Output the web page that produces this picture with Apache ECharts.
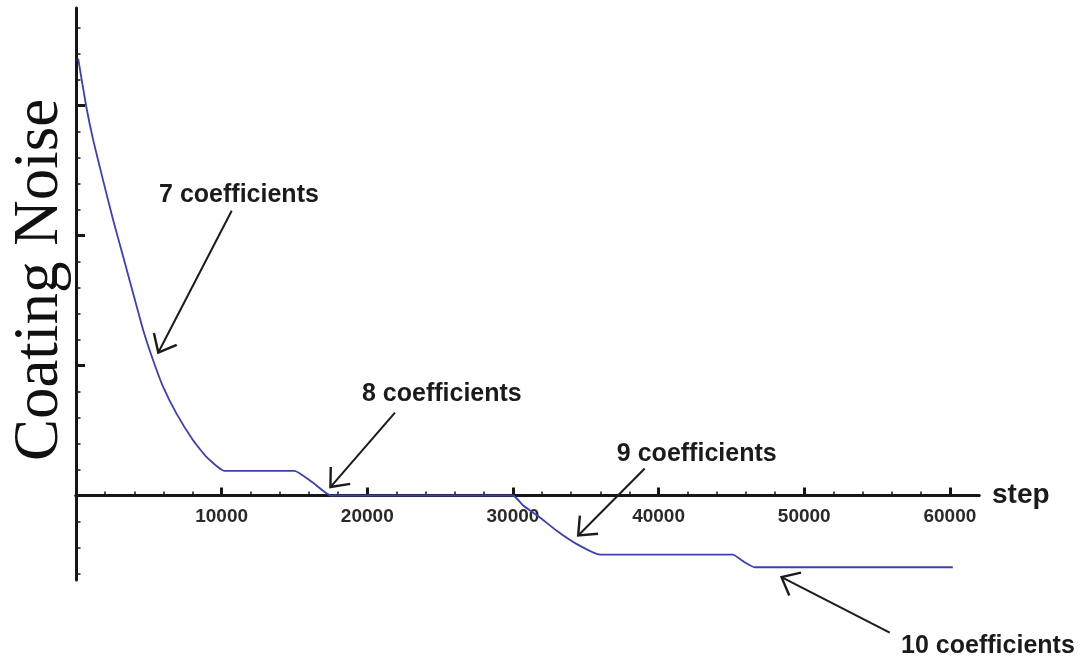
<!DOCTYPE html>
<html>
<head>
<meta charset="utf-8">
<title>Coating Noise vs step</title>
<script src="https://cdn.jsdelivr.net/npm/echarts@6/dist/echarts.min.js"></script>
<style>
  html, body { margin: 0; padding: 0; background: #ffffff; }
  #chart { width: 1082px; height: 661px; }
</style>
</head>
<body>
<div id="chart"></div>
<script>
// Coating noise during the optimisation run, by step
const steps = [150, 690, 1190, 1870, 2560, 3250, 3930, 4620, 5300, 5990, 6910, 8050, 8970, 10200,
               15000, 16300, 17500, 30000, 30700, 31830, 32980, 34360, 35960, 45100, 45790, 46600, 60200];
const noise = [3.36, 3.00, 2.73, 2.42, 2.115, 1.833, 1.552, 1.269, 1.038, 0.833, 0.628, 0.423, 0.295, 0.19,
               0.19, 0.096, 0, 0, -0.077, -0.167, -0.269, -0.372, -0.454, -0.455, -0.505, -0.552, -0.552];

// Axis ticks (the vertical axis carries no numbers)
const xMajorTicks = [10000, 20000, 30000, 40000, 50000, 60000];
const xMinorTicks = [2000, 4000, 6000, 8000, 12000, 14000, 16000, 18000, 22000, 24000, 26000, 28000,
                     32000, 34000, 36000, 38000, 42000, 44000, 46000, 48000, 52000, 54000, 56000, 58000];
const yMajorTicks = [1, 2, 3];
const yMinorTicks = [-0.6, -0.4, -0.2, 0.2, 0.4, 0.6, 0.8, 1.2, 1.4, 1.6, 1.8, 2.2, 2.4, 2.6, 2.8, 3.2, 3.4, 3.6];

// Annotations: label centres and arrows (tail -> head), in step / noise units
const noteText  = ['7 coefficients', '8 coefficients', '9 coefficients', '10 coefficients'];
const noteStep  = [11190, 25120, 42620, 62615];
const noteValue = [2.31, 0.777, 0.322, -1.16];
const arrowFromStep  = [10690, 21900, 39050, 55870];
const arrowFromValue = [2.19, 0.638, 0.208, -1.054];
const arrowToStep    = [5650, 17470, 34480, 48440];
const arrowToValue   = [1.10, 0.065, -0.308, -0.628];

const Y_MIN = -0.65, Y_MAX = 3.75;
const GRID = { left: 76, right: 103, top: 8, bottom: 81 };
// the step axis sits on noise = 0, raised from the grid's bottom edge
const plotHeight = 661 - GRID.top - GRID.bottom;
const zeroLift = plotHeight * (0 - Y_MIN) / (Y_MAX - Y_MIN);

const AXIS = '#161616';
const INK = '#1b1b1b';
const SANS = '"Liberation Sans", Arial, Helvetica, sans-serif';

const chart = echarts.init(document.getElementById('chart'), null, { renderer: 'canvas' });

function xAxisBase() {
  return {
    type: 'value', position: 'bottom', min: 0, max: 62000,
    offset: -zeroLift,
    splitLine: { show: false },
    axisLine: { show: true, onZero: false, lineStyle: { color: AXIS, width: 3 } }
  };
}
function yAxisBase() {
  return {
    type: 'value', position: 'left', min: Y_MIN, max: Y_MAX,
    splitLine: { show: false },
    axisLabel: { show: false }
  };
}

const option = {
  animation: false,
  backgroundColor: '#ffffff',
  grid: Object.assign({ outerBoundsMode: 'none' }, GRID),
  xAxis: [
    Object.assign(xAxisBase(), {
      name: 'step', nameLocation: 'end', nameGap: 13,
      nameTextStyle: { fontFamily: SANS, fontSize: 28, fontWeight: 'bold', color: INK, padding: [0, 0, 5, 0] },
      axisTick: { show: true, inside: true, length: 8, customValues: xMajorTicks, lineStyle: { color: AXIS, width: 3 } },
      axisLabel: { show: true, customValues: xMajorTicks, margin: 12, fontFamily: SANS, fontSize: 19,
                   fontWeight: 'bold', color: '#2a2a2a',
                   formatter: function (v) { return String(v); } }
    }),
    Object.assign(xAxisBase(), {
      axisTick: { show: true, inside: true, length: 4, customValues: xMinorTicks, lineStyle: { color: AXIS, width: 1.5 } },
      axisLabel: { show: false }
    })
  ],
  yAxis: [
    Object.assign(yAxisBase(), {
      name: 'Coating Noise', nameLocation: 'middle', nameRotate: 90, nameGap: 4,
      nameTextStyle: { fontFamily: '"Liberation Serif", "Times New Roman", serif', fontSize: 63, color: '#111111', padding: [0, 0, 0, 28] },
      axisLine: { show: true, onZero: false, lineStyle: { color: AXIS, width: 3 } },
      axisTick: { show: true, inside: true, length: 9, customValues: yMajorTicks, lineStyle: { color: AXIS, width: 3 } }
    }),
    Object.assign(yAxisBase(), {
      axisLine: { show: false, onZero: false },
      axisTick: { show: true, inside: true, length: 4.5, customValues: yMinorTicks, lineStyle: { color: AXIS, width: 1.5 } }
    })
  ],
  series: [
    {
      name: 'Coating Noise',
      type: 'line',
      xAxisIndex: 0, yAxisIndex: 0,
      data: steps.map((s, i) => [s, noise[i]]),
      showSymbol: false,
      smooth: 0.15,
      lineStyle: { color: '#3b40b2', width: 1.8 },
      z: 5
    },
    {
      // arrows pointing at each stage of the curve
      type: 'custom',
      xAxisIndex: 0, yAxisIndex: 0,
      silent: true, clip: false, z: 6,
      data: arrowFromStep.map((s, i) => [s, arrowFromValue[i], arrowToStep[i], arrowToValue[i]]),
      renderItem: function (params, api) {
        const a = api.coord([api.value(0), api.value(1)]);
        const b = api.coord([api.value(2), api.value(3)]);
        const ang = Math.atan2(a[1] - b[1], a[0] - b[0]);
        const len = 20, half = 40 * Math.PI / 180;
        const p1 = [b[0] + len * Math.cos(ang + half), b[1] + len * Math.sin(ang + half)];
        const p2 = [b[0] + len * Math.cos(ang - half), b[1] + len * Math.sin(ang - half)];
        return {
          type: 'group',
          children: [
            { type: 'line', shape: { x1: a[0], y1: a[1], x2: b[0], y2: b[1] },
              style: { stroke: INK, lineWidth: 2, fill: null } },
            { type: 'polyline', shape: { points: [p1, b, p2] },
              style: { stroke: INK, lineWidth: 2.4, fill: null, lineJoin: 'miter' } }
          ]
        };
      }
    },
    {
      // stage labels
      type: 'custom',
      xAxisIndex: 0, yAxisIndex: 0,
      silent: true, clip: false, z: 6,
      data: noteStep.map((s, i) => [s, noteValue[i]]),
      renderItem: function (params, api) {
        const p = api.coord([api.value(0), api.value(1)]);
        return {
          type: 'text', x: p[0], y: p[1],
          style: {
            text: noteText[params.dataIndex],
            font: 'bold 25px ' + SANS,
            fill: INK, align: 'center', verticalAlign: 'middle'
          }
        };
      }
    }
  ]
};

chart.setOption(option);
</script>
</body>
</html>
